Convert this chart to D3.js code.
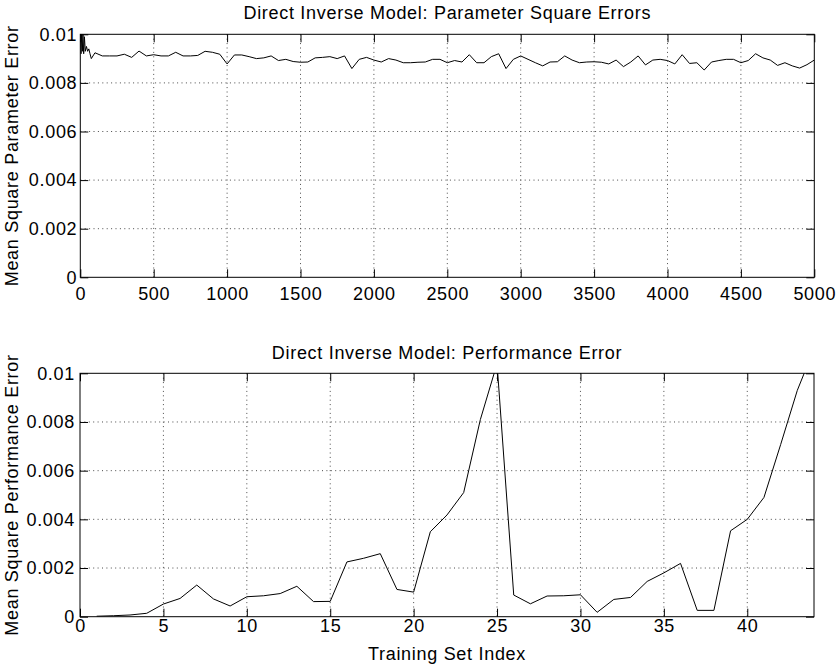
<!DOCTYPE html>
<html>
<head>
<meta charset="utf-8">
<script src="https://cdn.jsdelivr.net/npm/d3@7"></script>
<style>
  html, body { margin: 0; padding: 0; background: #fff; }
  svg { display: block; }
  text { font-family: "Liberation Sans", Arial, Helvetica, sans-serif; fill: #000; }
</style>
</head>
<body>
<svg id="chart" width="837" height="664"></svg>
<script>
// ---------- Data ----------
const topTitle = "Direct Inverse Model: Parameter Square Errors";
const topYLabel = "Mean Square Parameter Error";
const topXTicks = [0, 500, 1000, 1500, 2000, 2500, 3000, 3500, 4000, 4500, 5000];
const topYTicks = [0, 0.002, 0.004, 0.006, 0.008, 0.01];

const paramIndex = [
  0, 5, 9, 14, 18, 23, 28, 34, 42, 50, 58, 66, 75, 100,
  150, 200, 250, 300, 350, 400, 450, 500, 550, 600, 650, 700, 750, 800, 850, 900, 950,
  1000, 1050, 1100, 1150, 1200, 1250, 1300, 1350, 1400, 1450, 1500, 1550, 1600, 1650,
  1700, 1750, 1800, 1850, 1900, 1950, 2000, 2050, 2100, 2150, 2200, 2250, 2300, 2350,
  2400, 2450, 2500, 2550, 2600, 2650, 2700, 2750, 2800, 2850, 2900, 2950, 3000, 3050,
  3100, 3150, 3200, 3250, 3300, 3350, 3400, 3450, 3500, 3550, 3600, 3650, 3700, 3750,
  3800, 3850, 3900, 3950, 4000, 4050, 4100, 4150, 4200, 4250, 4300, 4350, 4400, 4450,
  4500, 4550, 4600, 4650, 4700, 4750, 4800, 4850, 4900, 4950, 5000
];
const paramError = [
  0.0100, 0.0092, 0.0100, 0.0093, 0.0100, 0.0092, 0.0099, 0.0093, 0.0095, 0.0093, 0.0094, 0.0092, 0.0090, 0.00924,
  0.00911, 0.00911, 0.00911, 0.00918, 0.00905, 0.00931, 0.00911, 0.00916, 0.00911, 0.00911, 0.00926, 0.00911, 0.00911, 0.00913, 0.00930, 0.00926, 0.00918,
  0.00878, 0.00915, 0.00915, 0.00908, 0.00900, 0.00903, 0.00911, 0.00892, 0.00897, 0.00888, 0.00885, 0.00886, 0.00903, 0.00905,
  0.00908, 0.00900, 0.00911, 0.00859, 0.00897, 0.00905, 0.00894, 0.00886, 0.00900, 0.00894, 0.00883, 0.00883, 0.00885, 0.00886,
  0.00897, 0.00897, 0.00883, 0.00892, 0.00886, 0.00916, 0.00883, 0.00883, 0.00908, 0.00920, 0.00859, 0.00897, 0.00911, 0.00897,
  0.00883, 0.00870, 0.00886, 0.00887, 0.00911, 0.00894, 0.00883, 0.00886, 0.00887, 0.00885, 0.00878, 0.00894, 0.00867, 0.00886,
  0.00911, 0.00874, 0.00894, 0.00897, 0.00892, 0.00878, 0.00916, 0.00880, 0.00883, 0.00853, 0.00886, 0.00892, 0.00897, 0.00897,
  0.00883, 0.00892, 0.00920, 0.00903, 0.00894, 0.00872, 0.00883, 0.00870, 0.00861, 0.00875, 0.00894
];

const botTitle = "Direct Inverse Model: Performance Error";
const botYLabel = "Mean Square Performance Error";
const botXLabel = "Training Set Index";
const botXTicks = [0, 5, 10, 15, 20, 25, 30, 35, 40];
const botYTicks = [0, 0.002, 0.004, 0.006, 0.008, 0.01];

const perfIndex = [
  1, 2, 3, 4, 5, 6, 7, 8, 9, 10, 11, 12, 13, 14, 15, 16, 17, 18, 19, 20, 21, 22,
  23, 24, 25, 26, 27, 28, 29, 30, 31, 32, 33, 34, 35, 36, 37, 38, 39, 40, 41, 42, 43, 44
];
const perfError = [
  0.00002, 0.00004, 0.00007, 0.00014, 0.00052, 0.00075, 0.00130, 0.00073, 0.00044, 0.00082, 0.00086,
  0.00095, 0.00125, 0.00062, 0.00063, 0.00225, 0.00240, 0.00259, 0.00112, 0.00101, 0.00349, 0.00418,
  0.00510, 0.00810, 0.01040, 0.00089, 0.00053, 0.00085, 0.00086, 0.00090, 0.00018, 0.00071, 0.00079,
  0.00145, 0.00180, 0.00219, 0.00026, 0.00026, 0.00353, 0.00400, 0.00490, 0.00707, 0.00930, 0.01100
];

// ---------- Drawing ----------
const svg = d3.select("#chart");
const FONT = 18;
const LS = "0.7px";

function yFmt(v) { return v === 0 ? "0" : String(+v.toFixed(3)); }

function panel(opts) {
  const { left, right, top, bottom, xDomain, yDomain, xTicks, yTicks, xs, ys,
          title, titleY, yLabel, xPad, yPad, id } = opts;
  const x = d3.scaleLinear().domain(xDomain).range([left, right]);
  const y = d3.scaleLinear().domain(yDomain).range([bottom, top]);
  const g = svg.append("g");

  // grid
  const grid = g.append("g").attr("stroke", "#000").attr("stroke-width", 1)
    .attr("stroke-dasharray", "1,3.4").attr("opacity", 0.7);
  grid.selectAll(".gx").data(xTicks.filter(t => t !== xDomain[0] && t !== xDomain[1]))
    .join("line").attr("x1", d => x(d)).attr("x2", d => x(d))
    .attr("y1", top).attr("y2", bottom);
  grid.selectAll(".gy").data(yTicks.filter(t => t !== yDomain[0] && t !== yDomain[1]))
    .join("line").attr("y1", d => y(d)).attr("y2", d => y(d))
    .attr("x1", left).attr("x2", right);

  // axes
  const ax = (gen, tx, ty) => {
    const a = g.append("g").attr("transform", `translate(${tx},${ty})`).call(gen);
    a.select(".domain").remove();
    a.selectAll(".tick line").attr("stroke", "#000");
    a.selectAll("text").attr("font-size", FONT).attr("letter-spacing", LS)
      .attr("font-family", "Liberation Sans, Arial, Helvetica, sans-serif").attr("fill", "#000");
    return a;
  };
  ax(d3.axisBottom(x).tickValues(xTicks).tickSize(-8).tickSizeOuter(0).tickPadding(xPad).tickFormat(d3.format("d")), 0, bottom);
  ax(d3.axisTop(x).tickValues(xTicks).tickSize(-8).tickSizeOuter(0).tickFormat(""), 0, top);
  ax(d3.axisLeft(y).tickValues(yTicks).tickSize(-8).tickSizeOuter(0).tickPadding(yPad).tickFormat(yFmt), left, 0);
  ax(d3.axisRight(y).tickValues(yTicks).tickSize(-8).tickSizeOuter(0).tickFormat(""), right, 0);

  // box
  g.append("rect").attr("x", left).attr("y", top).attr("width", right - left)
    .attr("height", bottom - top).attr("fill", "none").attr("stroke", "#000").attr("stroke-width", 1);

  // clip + line
  svg.append("clipPath").attr("id", id).append("rect")
    .attr("x", left).attr("y", top).attr("width", right - left).attr("height", bottom - top);
  const line = d3.line().x((d, i) => x(xs[i])).y((d, i) => y(ys[i]));
  g.append("path").datum(ys).attr("clip-path", `url(#${id})`)
    .attr("d", line).attr("fill", "none").attr("stroke", "#000").attr("stroke-width", 1)
    .attr("stroke-linejoin", "round");

  // title
  g.append("text").attr("x", (left + right) / 2).attr("y", titleY)
    .attr("text-anchor", "middle").attr("font-size", FONT).attr("letter-spacing", LS).text(title);
  // y label
  g.append("text").attr("transform", `translate(17.5,${(top + bottom) / 2}) rotate(-90)`)
    .attr("text-anchor", "middle").attr("font-size", FONT).attr("letter-spacing", LS).text(yLabel);
  return { x, y };
}

panel({
  id: "clipTop", left: 80.3, right: 814.3, top: 34.3, bottom: 277.3,
  xDomain: [0, 5000], yDomain: [0, 0.01], xTicks: topXTicks, yTicks: topYTicks,
  xs: paramIndex, ys: paramError, title: topTitle, titleY: 19, yLabel: topYLabel,
  xPad: 9.5, yPad: 3
});

panel({
  id: "clipBot", left: 80, right: 814, top: 373.3, bottom: 616.7,
  xDomain: [0, 44], yDomain: [0, 0.01], xTicks: botXTicks, yTicks: botYTicks,
  xs: perfIndex, ys: perfError, title: botTitle, titleY: 358.5, yLabel: botYLabel,
  xPad: 2.5, yPad: 5
});

svg.append("text").attr("x", 447).attr("y", 659.5).attr("text-anchor", "middle")
  .attr("font-size", FONT).attr("letter-spacing", LS).text(botXLabel);
</script>
</body>
</html>
